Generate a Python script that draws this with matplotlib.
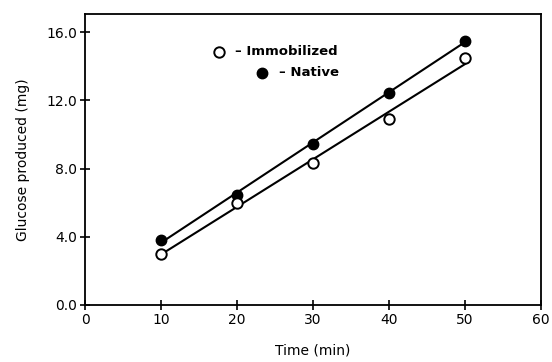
import numpy as np
import matplotlib
matplotlib.use("Agg")
import matplotlib.pyplot as plt

# time points (min) and glucose produced (mg)
time_min = [10, 20, 30, 40, 50]
native = [3.8, 6.45, 9.45, 12.45, 15.5]
immobilized = [3.0, 6.0, 8.3, 10.9, 14.5]

xticks = [0, 10, 20, 30, 40, 50, 60]
yticks = [0.0, 4.0, 8.0, 12.0, 16.0]

plt.rcParams['font.family'] = ['DejaVu Sans']

fig = plt.figure(figsize=(5.52, 3.62), dpi=100)
ax = fig.add_axes([0.154, 0.1575, 0.826, 0.8035])

x = np.array(time_min)
# straight line fits through each series
for y in (native, immobilized):
    slope, intercept = np.polyfit(x, y, 1)
    ax.plot([x[0], x[-1]], [slope * x[0] + intercept, slope * x[-1] + intercept],
            color='black', lw=1.5, zorder=2)

ax.plot(x, native, 'o', ms=7.5, mfc='black', mec='black', zorder=3)
ax.plot(x, immobilized, 'o', ms=7.5, mfc='white', mec='black', mew=1.4, zorder=3)

# hand-made key inside the plot
ax.plot([17.6], [14.85], 'o', ms=7.5, mfc='white', mec='black', mew=1.4)
ax.text(19.8, 14.85, '\u2013 Immobilized', fontsize=9.5, fontweight='bold',
        va='center', ha='left')
ax.plot([23.3], [13.6], 'o', ms=7.5, mfc='black', mec='black')
ax.text(25.5, 13.6, '\u2013 Native', fontsize=9.5, fontweight='bold',
        va='center', ha='left')

ax.set_xlim(0, 60)
ax.set_ylim(0, 17.05)
ax.set_xticks(xticks)
ax.set_xticklabels([str(t) for t in xticks])
ax.set_yticks(yticks)
ax.set_yticklabels(['%.1f' % t for t in yticks])
ax.tick_params(direction='inout', length=7, width=1.2, labelsize=10, pad=2)

for s in ax.spines.values():
    s.set_linewidth(1.3)

ax.set_xlabel('Time (min)', fontsize=10, labelpad=12)
ax.set_ylabel('Glucose produced (mg)', fontsize=10, labelpad=12)

fig.savefig('out.png', dpi=100)
